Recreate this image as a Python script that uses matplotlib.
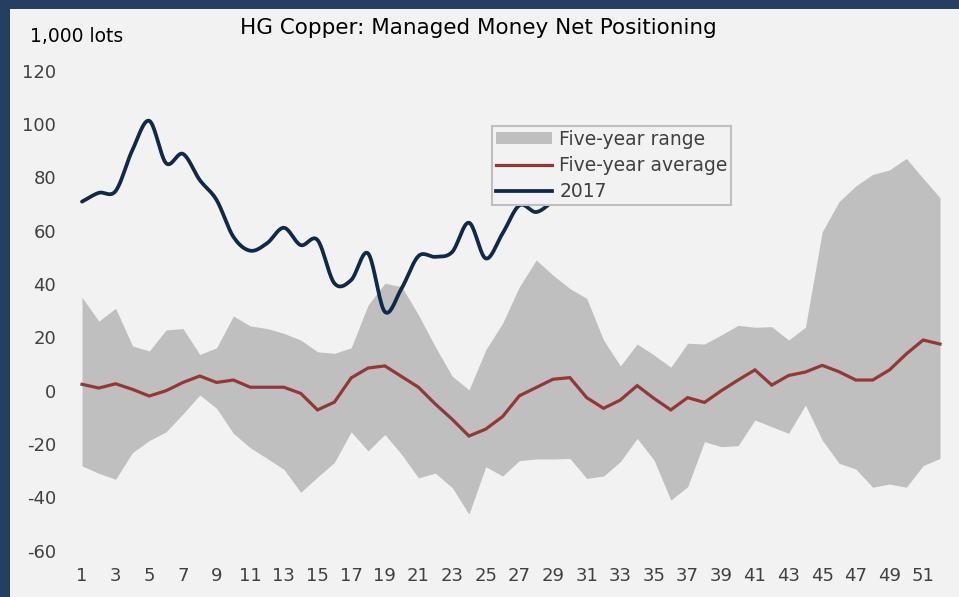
import numpy as np
import matplotlib.pyplot as plt
from matplotlib.patches import Rectangle, Patch
from matplotlib.lines import Line2D

plt.rcParams['axes.unicode_minus'] = False

# weekly data, 1,000 lots
weeks = list(range(1, 53))
range_high = [35.0, 26.1, 30.9, 16.8, 14.9, 22.8, 23.3, 13.6, 16.1, 28.0,
              24.3, 23.3, 21.5, 19.0, 14.6, 14.0, 16.1, 32.1, 40.3, 39.0,
              28.4, 16.5, 5.5, 0.3, 15.3, 25.3, 39.0, 49.0, 43.3, 38.3,
              34.6, 19.0, 9.3, 17.5, 13.4, 8.8, 17.8, 17.5, 20.9, 24.5,
              23.8, 24.0, 19.0, 23.8, 59.6, 70.9, 76.8, 81.1, 82.8, 87.1,
              79.6, 72.4]
range_low = [-28.2, -31.0, -33.2, -23.2, -18.7, -15.4, -8.7, -1.6, -6.6, -16.0,
             -21.4, -25.4, -29.5, -38.1, -32.4, -26.9, -15.4, -22.6, -16.4, -23.9,
             -32.7, -30.9, -36.3, -46.3, -28.5, -32.0, -26.2, -25.6, -25.6, -25.4,
             -32.9, -32.0, -26.6, -17.9, -26.0, -41.0, -36.0, -19.1, -21.0, -20.6,
             -11.0, -13.5, -16.0, -5.4, -18.5, -27.2, -29.4, -36.2, -35.0, -36.2,
             -28.1, -25.4]
five_year_avg = [2.4, 1.0, 2.6, 0.5, -2.0, 0.0, 3.1, 5.5, 3.1, 4.0,
                 1.3, 1.3, 1.3, -1.0, -7.2, -4.3, 4.8, 8.5, 9.3, 5.3,
                 1.3, -5.0, -10.7, -17.0, -14.4, -9.7, -1.9, 1.2, 4.3, 4.9,
                 -2.6, -6.6, -3.5, 1.9, -2.9, -7.2, -2.6, -4.4, 0.0, 4.0,
                 7.8, 2.1, 5.7, 7.0, 9.5, 7.1, 4.0, 4.0, 7.8, 13.8,
                 19.0, 17.5]
y2017 = [70.9, 74.2, 74.9, 90.3, 101.2, 85.3, 88.8, 79.0, 71.5, 57.7,
         52.5, 55.3, 61.1, 54.6, 56.5, 40.3, 41.5, 51.5, 29.6, 38.4,
         50.5, 50.2, 52.0, 63.0, 49.6, 59.0, 69.5, 67.0, 71.0]

y_ticks = list(range(-60, 121, 20))
x_ticks = list(range(1, 53, 2))

NAVY = '#10284A'
RED = '#953735'
GREY = '#BFBFBF'
BG = '#F2F2F2'
FRAME = '#253F60'
TXT = '#404040'


def smooth(x, y, n=20):
    """Catmull-Rom curve through the points (like Excel's smoothed line)."""
    x = np.asarray(x, float)
    y = np.asarray(y, float)
    px = np.concatenate([[2 * x[0] - x[1]], x, [2 * x[-1] - x[-2]]])
    py = np.concatenate([[2 * y[0] - y[1]], y, [2 * y[-1] - y[-2]]])
    t = np.linspace(0, 1, n, endpoint=False)
    xs, ys = [], []
    for i in range(1, len(px) - 2):
        for p, out in ((px, xs), (py, ys)):
            p0, p1, p2, p3 = p[i - 1], p[i], p[i + 1], p[i + 2]
            out.append(0.5 * (2 * p1 + (-p0 + p2) * t
                              + (2 * p0 - 5 * p1 + 4 * p2 - p3) * t ** 2
                              + (-p0 + 3 * p1 - 3 * p2 + p3) * t ** 3))
    xs.append([x[-1]])
    ys.append([y[-1]])
    return np.concatenate(xs), np.concatenate(ys)


fig = plt.figure(figsize=(9.59, 5.97), dpi=100, facecolor=BG)
# dark frame on the left and top edges
fig.add_artist(Rectangle((0, 0), 10 / 959, 1, transform=fig.transFigure,
                         color=FRAME, lw=0, zorder=0))
fig.add_artist(Rectangle((0, 1 - 9 / 597), 1, 9 / 597, transform=fig.transFigure,
                         color=FRAME, lw=0, zorder=0))

ax = fig.add_axes([73.6 / 959, 46.3 / 597, 874.8 / 959, 480 / 597])
ax.set_facecolor(BG)

ax.fill_between(weeks, range_low, range_high, color=GREY, lw=0, zorder=1)
ax.plot(weeks, five_year_avg, color=RED, lw=2.3, zorder=2,
        solid_joinstyle='miter')
sx, sy = smooth(range(1, len(y2017) + 1), y2017)
ax.plot(sx, sy, color=NAVY, lw=2.7, zorder=3, solid_capstyle='round')

ax.set_xlim(0.5, 52.5)
ax.set_ylim(-60, 120)
ax.set_xticks(x_ticks)
ax.set_yticks(y_ticks)
ax.tick_params(length=0, labelsize=13, colors=TXT)
ax.tick_params(axis='y', pad=12.5)
ax.tick_params(axis='x', pad=12)
for s in ax.spines.values():
    s.set_visible(False)

handles = [Patch(facecolor=GREY, edgecolor='none'),
           Line2D([], [], color=RED, lw=2.3),
           Line2D([], [], color=NAVY, lw=2.7)]
leg = ax.legend(handles, ['Five-year range', 'Five-year average', '2017'],
                loc='upper left', bbox_to_anchor=(0.478, 0.885),
                borderaxespad=0, fancybox=False, framealpha=1,
                facecolor=BG, edgecolor=GREY, fontsize=13.5,
                handlelength=3.0, handleheight=0.55, labelspacing=0.38,
                borderpad=0.2, handletextpad=0.4)
leg.get_frame().set_linewidth(1.5)
for t in leg.get_texts():
    t.set_color(TXT)
leg.set_zorder(5)

fig.text(478 / 959, 1 - 28 / 597, 'HG Copper: Managed Money Net Positioning',
         ha='center', va='center', fontsize=15.5, color='black')
fig.text(30 / 959, 1 - 37 / 597, '1,000 lots', ha='left', va='center',
         fontsize=13.5, color='black')

fig.savefig('out.png', dpi=100, facecolor=BG)
